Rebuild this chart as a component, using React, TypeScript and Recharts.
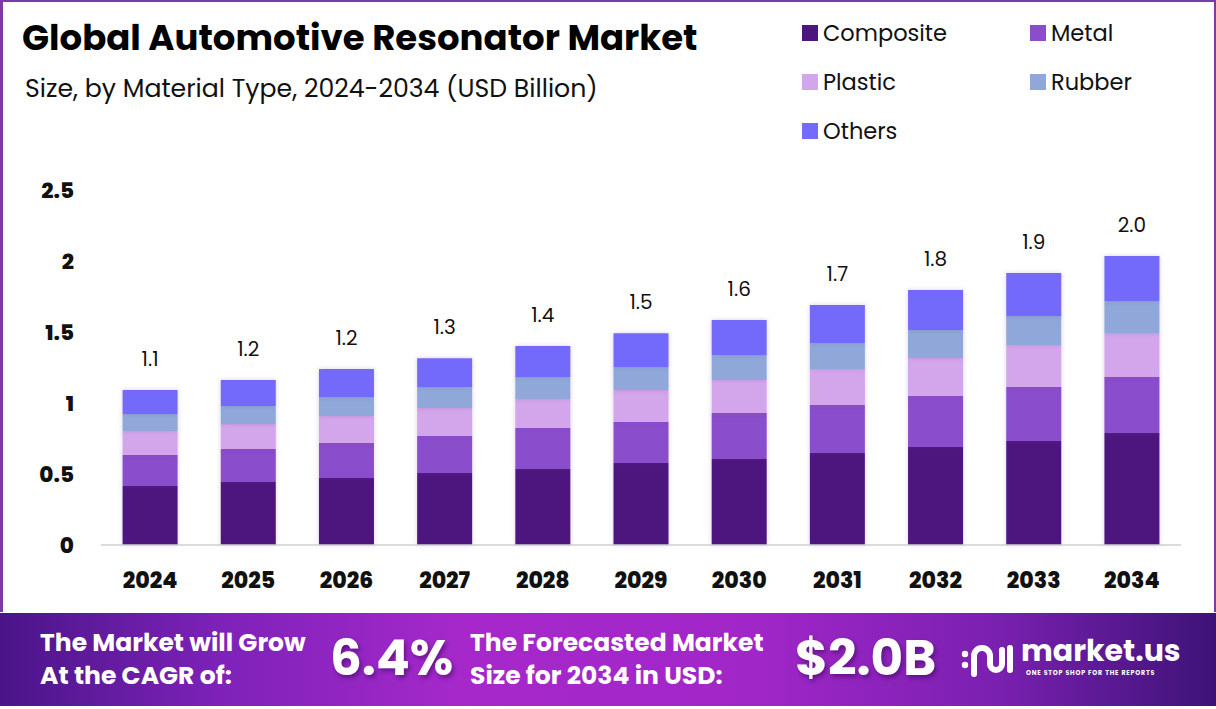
import { Bar, BarChart, LabelList, XAxis, YAxis } from 'recharts'

const years = ['2024', '2025', '2026', '2027', '2028', '2029', '2030', '2031', '2032', '2033', '2034']
const composite = [0.415, 0.444, 0.472, 0.507, 0.535, 0.577, 0.606, 0.648, 0.69, 0.732, 0.789]
const metal = [0.218, 0.232, 0.246, 0.26, 0.289, 0.289, 0.324, 0.338, 0.359, 0.38, 0.394]
const plastic = [0.169, 0.176, 0.19, 0.197, 0.204, 0.225, 0.232, 0.254, 0.268, 0.296, 0.31]
const rubber = [0.12, 0.127, 0.134, 0.148, 0.155, 0.162, 0.176, 0.183, 0.197, 0.204, 0.225]
const others = [0.169, 0.183, 0.197, 0.204, 0.218, 0.239, 0.246, 0.268, 0.282, 0.303, 0.317]
const yTicks = [0, 0.5, 1, 1.5, 2, 2.5]

const series = [
  { key: 'composite', name: 'Composite', color: '#4e157f' },
  { key: 'metal', name: 'Metal', color: '#8a4dcb' },
  { key: 'plastic', name: 'Plastic', color: '#d3a6ec' },
  { key: 'rubber', name: 'Rubber', color: '#8fa8d9' },
  { key: 'others', name: 'Others', color: '#736bfb' },
]

const data = years.map((year, i) => ({
  year,
  composite: composite[i],
  metal: metal[i],
  plastic: plastic[i],
  rubber: rubber[i],
  others: others[i],
  total: composite[i] + metal[i] + plastic[i] + rubber[i] + others[i],
}))

const FONT = "Poppins, 'Noto Sans', sans-serif"

function Legend() {
  const pos = [
    { x: 802, y: 33 },
    { x: 1030, y: 33 },
    { x: 802, y: 82 },
    { x: 1030, y: 82 },
    { x: 802, y: 131 },
  ]
  return (
    <>
      {series.map((s, i) => (
        <div
          key={s.key}
          style={{
            position: 'absolute',
            left: pos[i].x,
            top: pos[i].y - 15,
            height: 30,
            display: 'flex',
            alignItems: 'center',
            gap: 5,
            fontSize: 22.5,
            color: '#111',
          }}
        >
          <span style={{ width: 16, height: 16, background: s.color, display: 'inline-block' }} />
          <span>{s.name}</span>
        </div>
      ))}
    </>
  )
}

function Logo() {
  return (
    <svg width={60} height={50} style={{ position: 'absolute', left: 958, top: 634 }}>
      <g fill="none" stroke="#fff" strokeWidth={6} strokeLinecap="round">
        <path d="M16 40 V22 a8 8 0 0 1 16 0 V30 a6 6 0 0 0 12 0 V16" />
        <path d="M52 14 V36" />
      </g>
      <circle cx={7} cy={20} r={3.2} fill="#fff" />
      <circle cx={7} cy={31} r={3.2} fill="#fff" />
    </svg>
  )
}

export default function App() {
  return (
    <div
      style={{
        position: 'absolute',
        left: 0,
        top: 0,
        width: 1216,
        height: 709,
        background: '#fff',
        fontFamily: FONT,
        overflow: 'hidden',
      }}
    >
      <div
        style={{
          position: 'absolute',
          left: 0,
          top: 0,
          width: 1216,
          height: 612,
          boxSizing: 'border-box',
          borderTop: '2px solid #7b3aa6',
          borderLeft: '3px solid #7b3aa6',
          borderRight: '2px solid #7b3aa6',
        }}
      />
      <div
        style={{
          position: 'absolute',
          left: 22,
          top: 11,
          fontSize: 35.5,
          fontWeight: 700,
          color: '#000',
          whiteSpace: 'nowrap',
        }}
      >
        Global Automotive Resonator Market
      </div>
      <div
        style={{
          position: 'absolute',
          left: 25,
          top: 70,
          fontSize: 25.2,
          color: '#111',
          whiteSpace: 'nowrap',
        }}
      >
        Size, by Material Type, 2024-2034 (USD Billion)
      </div>
      <Legend />

      <div style={{ position: 'absolute', left: 0, top: 0 }}>
        <BarChart
          width={1216}
          height={600}
          data={data}
          margin={{ top: 190, right: 35, left: 0, bottom: 15 }}
          barCategoryGap="22%"
        >
          <defs>
            <filter id="barShadow" x="-20%" y="-20%" width="140%" height="140%">
              <feDropShadow dx="0" dy="0" stdDeviation="2" floodColor="#5a3a8a" floodOpacity="0.25" />
            </filter>
          </defs>
          <XAxis
            dataKey="year"
            axisLine={{ stroke: '#cfcfcf', strokeWidth: 1.5 }}
            tickLine={false}
            tickSize={6}
            tickMargin={21}
            height={40}
            interval={0}
            tick={{ fill: '#111', fontSize: 22, fontWeight: 800, fontFamily: FONT }}
          />
          <YAxis
            domain={[0, 2.5]}
            ticks={yTicks}
            width={101}
            axisLine={false}
            tickLine={false}
            tickSize={6}
            tickMargin={21}
            tick={{ fill: '#111', fontSize: 21.5, fontWeight: 800, fontFamily: FONT }}
          />
          {series.map((s, i) => (
            <Bar
              key={s.key}
              dataKey={s.key}
              name={s.name}
              stackId="a"
              fill={s.color}
              isAnimationActive={false}
              style={{ filter: 'url(#barShadow)' }}
            >
              {i === series.length - 1 ? (
                <LabelList
                  dataKey="total"
                  position="top"
                  offset={24}
                  formatter={(v: number) => v.toFixed(1)}
                  style={{ fill: '#111', fontSize: 20, fontFamily: FONT }}
                />
              ) : null}
            </Bar>
          ))}
        </BarChart>
      </div>

      <div
        style={{
          position: 'absolute',
          left: 0,
          top: 613,
          width: 1216,
          height: 93,
          background:
            'linear-gradient(90deg, #4a1588 0%, #7d22b8 18%, #a628cb 38%, #a126c8 62%, #7a20b0 82%, #3d1377 100%)',
          color: '#fff',
          fontWeight: 700,
        }}
      >
        <div style={{ position: 'absolute', left: 40, top: 13, fontSize: 25, lineHeight: '33px' }}>
          The Market will Grow
          <br />
          At the CAGR of:
        </div>
        <div
          style={{
            position: 'absolute',
            left: 330,
            top: 14,
            fontSize: 50,
            lineHeight: '62px',
            textShadow: '2px 3px 4px rgba(40,0,70,0.45)',
          }}
        >
          6.4%
        </div>
        <div style={{ position: 'absolute', left: 470, top: 13, fontSize: 25, lineHeight: '33px' }}>
          The Forecasted Market
          <br />
          Size for 2034 in USD:
        </div>
        <div
          style={{
            position: 'absolute',
            left: 795,
            top: 14,
            fontSize: 50,
            lineHeight: '62px',
            textShadow: '2px 3px 4px rgba(40,0,70,0.45)',
          }}
        >
          $2.0B
        </div>
      </div>
      <Logo />
      <div
        style={{
          position: 'absolute',
          left: 1021,
          top: 636,
          fontSize: 30,
          fontWeight: 700,
          color: '#fff',
          lineHeight: '30px',
        }}
      >
        market.us
      </div>
      <div
        style={{
          position: 'absolute',
          left: 1026,
          top: 669,
          fontSize: 6.3,
          lineHeight: '8px',
          fontWeight: 700,
          color: '#fff',
          letterSpacing: 0.8,
          whiteSpace: 'nowrap',
        }}
      >
        ONE STOP SHOP FOR THE REPORTS
      </div>
    </div>
  )
}
